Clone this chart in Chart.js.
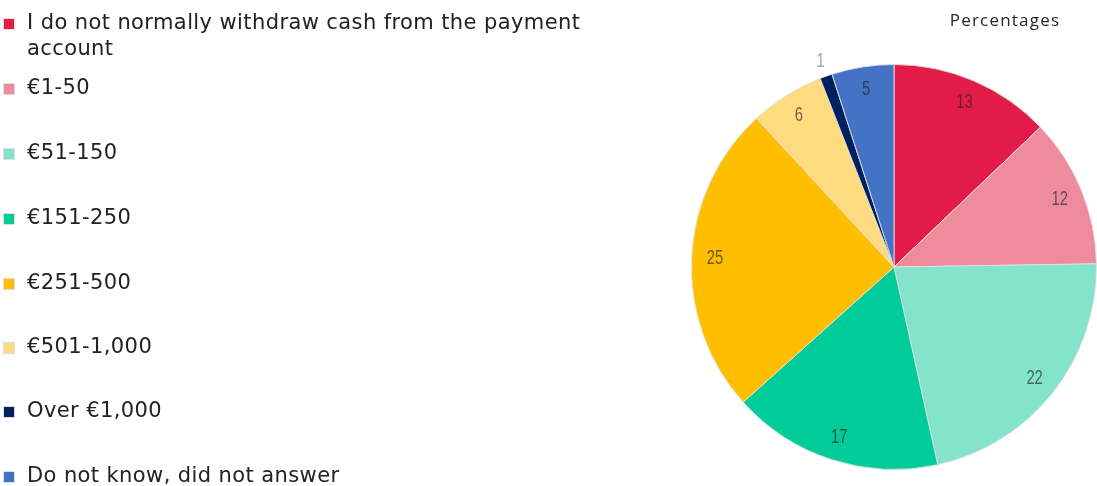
<!DOCTYPE html>
<html>
<head>
<meta charset="utf-8">
<script src="https://cdn.jsdelivr.net/npm/chart.js@4/dist/chart.umd.min.js"></script>
<style>
    html, body { margin: 0; padding: 0; background: #fff; }
    #wrap { position: relative; width: 1097px; height: 486px; overflow: hidden; }
    #grafico { position: absolute; left: 0; top: 0; }
    #titulo {
        position: absolute; left: 905px; top: 8px; width: 200px; text-align: center;
        font-family: 'Open Sans', sans-serif; font-size: 17px; letter-spacing: 1.2px; color: #262626;
    }
    #leyenda { position: absolute; left: 0; top: 0; font-family: 'DejaVu Sans', Verdana, sans-serif; font-size: 21px; letter-spacing: 0.4px; color: #222; }
    .item { position: absolute; left: 0; width: 620px; }
    .item .cuadro {
        position: absolute; left: 4px; width: 10px; height: 10px;
        box-shadow: 0 0 0 1px rgba(200,200,200,0.6);
    }
    .item .texto { position: absolute; left: 27px; line-height: 26px; width: 590px; }
</style>
</head>
<body>
<div id="wrap">
    <canvas id="grafico" width="1097" height="486"></canvas>
    <div id="titulo">Percentages</div>
    <div id="leyenda"></div>
</div>
<script>
// Retiro de efectivo de la cuenta de pago, en porcentajes
const categorias = [
    'I do not normally withdraw cash from the payment account',
    '€1-50',
    '€51-150',
    '€151-250',
    '€251-500',
    '€501-1,000',
    'Over €1,000',
    'Do not know, did not answer'
];
const valores = [13, 12, 22, 17, 25, 6, 1, 5];
const colores = ['#E31C47', '#EE8C9E', '#83E3CB', '#00CC99', '#FFBF00', '#FFDB80', '#002060', '#4472C4'];

// Posición vertical de cada entrada de la leyenda
const leyendaTop = [9, 74, 139, 204, 269, 333, 397, 462];

function renderizarLeyenda() {
    const cont = document.getElementById('leyenda');
    categorias.forEach((cat, i) => {
        cont.innerHTML += `
            <div class="item" style="top:${leyendaTop[i]}px">
                <div class="cuadro" style="top:10px;background:${colores[i]}"></div>
                <div class="texto">${cat}</div>
            </div>`;
    });
}

// Etiquetas de valor sobre cada porción (fuente estrecha)
const etiquetasPlugin = {
    id: 'etiquetas',
    afterDatasetsDraw(chart) {
        const ctx = chart.ctx;
        const meta = chart.getDatasetMeta(0);
        ctx.save();
        ctx.font = '20px "Liberation Sans", Arial, sans-serif';
        ctx.textAlign = 'center';
        ctx.textBaseline = 'middle';
        meta.data.forEach((arc, i) => {
            const p = arc.getProps(['x', 'y', 'startAngle', 'endAngle', 'outerRadius'], true);
            const mid = (p.startAngle + p.endAngle) / 2;
            const pequeña = valores[i] < 2;
            const r = pequeña ? p.outerRadius + 16 : p.outerRadius * 0.885;
            const tx = p.x + Math.cos(mid) * r;
            const ty = p.y + Math.sin(mid) * r;
            ctx.fillStyle = pequeña ? '#a6a6a6' : 'rgba(40,40,40,0.68)';
            ctx.save();
            ctx.translate(tx, ty);
            ctx.scale(0.74, 1);
            ctx.fillText(String(valores[i]), 0, 0);
            ctx.restore();
        });
        ctx.restore();
    }
};

function renderizarGrafico() {
    const ctx = document.getElementById('grafico');
    new Chart(ctx, {
        type: 'pie',
        data: {
            labels: categorias,
            datasets: [{
                data: valores,
                backgroundColor: colores,
                borderColor: 'rgba(225,225,225,0.9)',
                borderWidth: 1
            }]
        },
        options: {
            responsive: false,
            animation: false,
            events: [],
            layout: { padding: { left: 691, right: 0, top: 64, bottom: 16 } },
            plugins: {
                legend: { display: false },
                tooltip: { enabled: false }
            }
        },
        plugins: [etiquetasPlugin]
    });
}

renderizarLeyenda();
renderizarGrafico();
</script>
</body>
</html>
